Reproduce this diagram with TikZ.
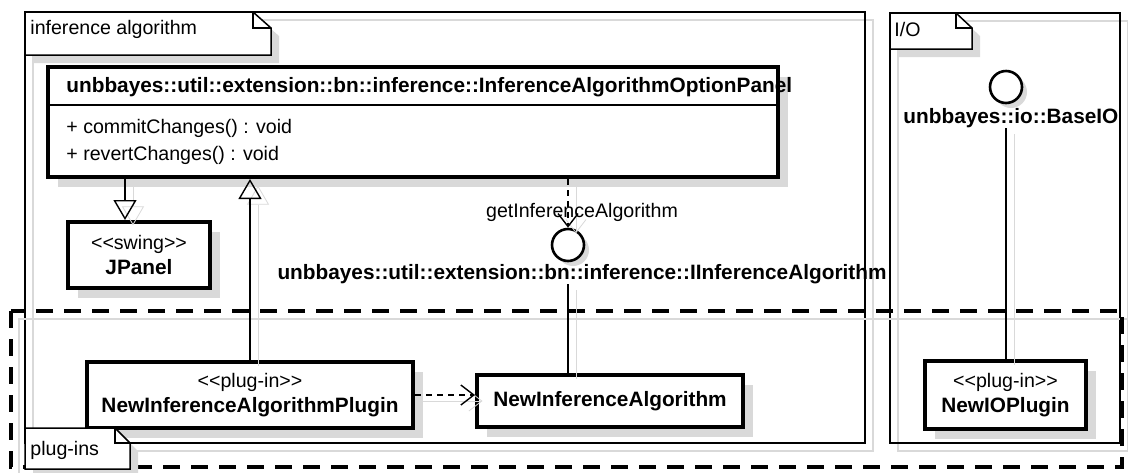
\documentclass[tikz,border=0pt]{standalone}
\usepackage{fontspec}
\setmainfont{Liberation Sans}
\usetikzlibrary{arrows.meta}
\definecolor{shadowgray}{gray}{0.85}
\newcommand{\stereo}[1]{{<}{<}#1{>}{>}}
\newcommand{\clsfont}{\fontsize{10.4}{12.5}\selectfont\bfseries}
\newcommand{\pkgtab}[6]{%
    \path[pkgtab]
        (#1, #2) -- (#3, #2) -- (#4, #5) -- (#4, #6) -- (#1, #6) -- cycle;
    \draw[pkgline] (#3, #2) -- (#3, #5) -- (#4, #5);
}

\begin{document}
\begin{tikzpicture}
    [ x=.5pt, y=-.5pt,
      font={\fontsize{9.8}{12.5}\selectfont},
      pkgline/.style={draw, line width=.75pt},
      pkgframe/.style={pkgline, preaction={draw=shadowgray, line width=1pt,
                       transform canvas={shift={(4pt,-4pt)}}}},
      pkgtab/.style={pkgline, fill=white, preaction={fill=shadowgray,
                     transform canvas={shift={(4pt,-4pt)}}}},
      pkglabel/.style={anchor=west, inner sep=0pt},
      pluginframe/.style={draw, line width=2.2pt, dash pattern=on 8.5pt off 5.5pt,
                          preaction={draw=shadowgray, solid, line width=1pt,
                          transform canvas={shift={(4pt,-4pt)}}}},
      umlbox/.style={draw, fill=white, line width=2pt, inner sep=0pt, align=center,
                     preaction={fill=shadowgray,
                     transform canvas={shift={(5pt,-5pt)}}}},
      iface/.style={circle, draw, fill=white, line width=1.3pt, minimum size=16pt,
                    inner sep=0pt, preaction={fill=shadowgray,
                    transform canvas={shift={(2.5pt,-2.5pt)}}}},
      clsname/.style={font=\clsfont, inner sep=0pt},
      member/.style={anchor=west, inner sep=0pt},
      cshade/.style={preaction={draw=shadowgray,
                     transform canvas={shift={(4pt,-3pt)}}}},
      assoc/.style={line width=.7pt, cshade},
      realize/.style={assoc, -{Triangle[open, length=10pt, width=11.5pt]}},
      depend/.style={assoc, dash pattern=on 3pt off 2.5pt,
                     -{Straight Barb[length=6.5pt, width=10pt]}}
    ]
    \useasboundingbox (0, 0) rectangle (1128, 472);

    % Packages
    \draw[pkgframe] (25, 12) rectangle (865, 443);
    \draw[pkgframe] (890, 13) rectangle (1120, 443);
    \draw[pluginframe] (11, 311) rectangle (1122, 467);
    \pkgtab{25}{12}{253}{271}{28}{55}
    \pkgtab{890}{13}{956}{972}{28}{49}
    \node[pkglabel] (algpkg) at (30, 29) {inference algorithm};
    \node[pkglabel] (iopkg) at (894, 29) {I/O};

    % Option panel class
    \node[umlbox, minimum width=365pt, minimum height=55pt] (optpanel)
        at (413, 122) {};
    \draw[line width=.75pt]
        ([yshift=-20pt]optpanel.north west) -- ([yshift=-20pt]optpanel.north east);
    \node[clsname, anchor=west] (optname) at (66, 87)
        {unbbayes::util::extension::bn::inference::InferenceAlgorithmOptionPanel};
    \node[member] (commit) at (66, 128) {+ commitChanges() : void};
    \node[member] (revert) at (66, 155) {+ revertChanges() : void};

    % Classes
    \node[umlbox, minimum width=71pt, minimum height=33pt] (jpanel)
        at (139, 255) {\stereo{swing}\\{\clsfont JPanel}};
    \node[umlbox, minimum width=163pt, minimum height=33pt] (algplugin)
        at (250, 395) {\stereo{plug-in}\\{\clsfont NewInferenceAlgorithmPlugin}};
    \node[umlbox, minimum width=133pt, minimum height=26pt] (newalg)
        at (610, 401) {\clsfont NewInferenceAlgorithm};
    \node[umlbox, minimum width=80.5pt, minimum height=34pt] (ioplugin)
        at (1005.5, 395) {\stereo{plug-in}\\{\clsfont NewIOPlugin}};

    % Interfaces
    \node[iface] (ialg) at (568, 245) {};
    \node[clsname] (ialglbl) at (582, 274)
        {unbbayes::util::extension::bn::inference::IInferenceAlgorithm};
    \node[iface] (baseio) at (1006, 87) {};
    \node[clsname, anchor=west] (baseiolbl) at (903, 118) {unbbayes::io::BaseIO};

    % Relations
    \draw[realize] ([xshift=-7pt]jpanel.north |- optpanel.south)
        -- ([xshift=-7pt]jpanel.north);
    \draw[realize] (algplugin.north) -- (algplugin.north |- optpanel.south);
    \draw[depend] (optpanel.south -| ialg) -- (ialg.north);
    \node[inner sep=0pt] (getlbl) at (582, 212) {getInferenceAlgorithm};
    \draw[assoc] (ialglbl.south -| ialg) -- (newalg.north -| ialg);
    \draw[depend] (algplugin.east) -- (algplugin.east -| newalg.west);
    \draw[assoc] (baseiolbl.south -| baseio) -- (ioplugin.north -| baseio);

    % Plug-ins tab
    \pkgtab{25}{428}{115}{130}{443}{469}
    \node[pkglabel] (plugpkg) at (30, 450) {plug-ins};
\end{tikzpicture}
\end{document}
